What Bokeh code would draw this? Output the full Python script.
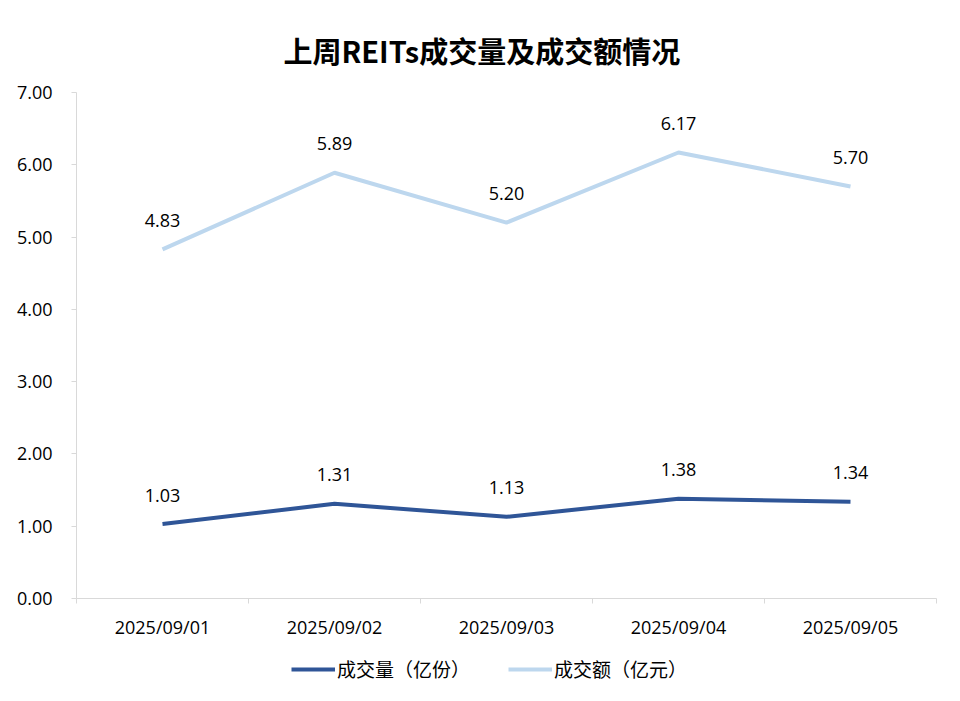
from bokeh.plotting import figure
from bokeh.layouts import column
from bokeh.models import ColumnDataSource, FixedTicker, Legend, LegendItem, NumeralTickFormatter, Range1d
from bokeh.embed import file_html
from bokeh.resources import INLINE

dates = ["2025/09/01", "2025/09/02", "2025/09/03", "2025/09/04", "2025/09/05"]
volume = [1.03, 1.31, 1.13, 1.38, 1.34]     # 成交量（亿份）
amount = [4.83, 5.89, 5.20, 6.17, 5.70]     # 成交额（亿元）
y_ticks = [0, 1, 2, 3, 4, 5, 6, 7]
series_names = ["成交量（亿份）", "成交额（亿元）"]
series_colors = ["#2F5597", "#BDD7EE"]

FONT = "'Open Sans', 'Noto Sans CJK SC', sans-serif"
CJK = "'Noto Sans CJK SC', sans-serif"
xs = [i + 0.5 for i in range(len(dates))]

src = ColumnDataSource(dict(
    x=xs, vol=volume, amt=amount,
    vol_lbl=[f"{v:.2f}" for v in volume],
    amt_lbl=[f"{v:.2f}" for v in amount],
))

p = figure(width=944, height=641, output_backend="svg", toolbar_location=None,
           x_range=Range1d(0, len(dates)), y_range=Range1d(0, 7),
           min_border_left=76, min_border_right=8, min_border_top=92, min_border_bottom=42)

p.title.text = "上周REITs成交量及成交额情况"
p.title.text_font = CJK
p.title.text_font_size = "29px"
p.title.text_font_style = "bold"
p.title.align = "left"
p.title.offset = 207
p.title.standoff = 43
p.title.text_color = "#000000"

p.xgrid.visible = False
p.ygrid.visible = False
p.outline_line_color = None

p.line("x", "vol", source=src, line_color=series_colors[0], line_width=4)
p.line("x", "amt", source=src, line_color=series_colors[1], line_width=4)

for col, lbl in (("vol", "vol_lbl"), ("amt", "amt_lbl")):
    p.text("x", col, text=lbl, source=src, text_align="center", text_baseline="alphabetic",
           y_offset=-29, text_font_size="18px", text_color="#000000",
           text_font={"value": FONT})

# x axis: labels at category centres, tick marks at category boundaries
p.xaxis.ticker = FixedTicker(ticks=xs, minor_ticks=list(range(len(dates) + 1)))
p.xaxis.major_label_overrides = {x: d for x, d in zip(xs, dates)}
p.xaxis.major_tick_line_color = None
p.xaxis.major_tick_in = 0
p.xaxis.major_tick_out = 5
p.xaxis.minor_tick_line_color = "#D9D9D9"
p.xaxis.minor_tick_in = 0
p.xaxis.minor_tick_out = 5
p.xaxis.axis_line_color = "#D9D9D9"
p.xaxis.major_label_text_font = FONT
p.xaxis.major_label_text_font_size = "18px"
p.xaxis.major_label_text_color = "#000000"
p.xaxis.major_label_standoff = 11

# y axis
p.yaxis.ticker = FixedTicker(ticks=y_ticks)
p.yaxis.formatter = NumeralTickFormatter(format="0.00")
p.yaxis.major_tick_line_color = "#D9D9D9"
p.yaxis.major_tick_in = 0
p.yaxis.major_tick_out = 5
p.yaxis.minor_tick_line_color = None
p.yaxis.axis_line_color = "#D9D9D9"
p.yaxis.major_label_text_font = FONT
p.yaxis.major_label_text_font_size = "18px"
p.yaxis.major_label_text_color = "#000000"
p.yaxis.major_label_standoff = 19

# legend row (separate strip below the chart); its lines reuse the series data
# but the strip's y range keeps them out of view so only the legend shows
lf = figure(width=944, height=44, output_backend="svg", toolbar_location=None,
            x_axis_type=None, y_axis_type=None, x_range=Range1d(0, len(dates)),
            y_range=Range1d(100, 101),
            min_border_left=0, min_border_right=0, min_border_top=0, min_border_bottom=0)
lf.outline_line_color = None
lf.xgrid.visible = False
lf.ygrid.visible = False
items = []
for col, name, color in zip(("vol", "amt"), series_names, series_colors):
    rr = lf.line("x", col, source=src, line_color=color, line_width=4)
    items.append(LegendItem(label=name, renderers=[rr]))
legend = Legend(items=items, orientation="horizontal", location=(215, 3),
                label_text_font=CJK, label_text_font_size="19px", label_text_color="#000000",
                glyph_width=44, spacing=38, border_line_color=None, background_fill_alpha=0,
                margin=0, padding=0, label_standoff=2)
lf.add_layout(legend, "center")

layout = column(p, lf, spacing=0)
open("out.html", "w").write(file_html(layout, INLINE))
